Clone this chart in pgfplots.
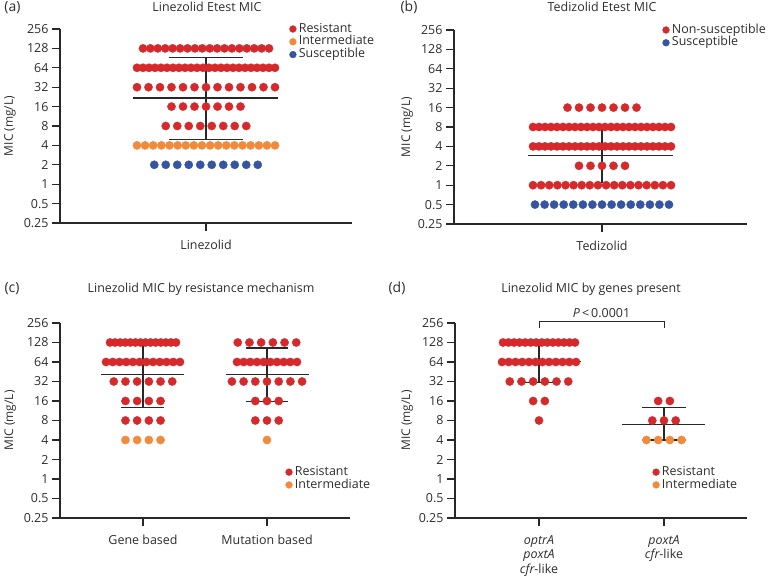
\documentclass[border=0pt]{standalone}
\usepackage{fontspec}
\setmainfont{Open Sans}
\usepackage{pgfplots}
\pgfplotsset{compat=1.18}
\definecolor{cR}{RGB}{213,41,43}
\definecolor{cO}{RGB}{241,139,59}
\definecolor{cB}{RGB}{54,84,164}
\definecolor{axc}{RGB}{40,40,40}
\definecolor{txc}{RGB}{45,45,45}
\pgfplotsset{every axis/.append style={
  scale only axis, clip=false,
  ymode=log, log basis y=2, ymin=0.25, ymax=256,
  ytick={0.25,0.5,1,2,4,8,16,32,64,128,256},
  yticklabels={0.25,0.5,1,2,4,8,16,32,64,128,256},
  axis x line*=bottom, axis y line*=left,
  axis line style={line width=1.1bp, axc},
  tick style={line width=1.1bp, axc},
  tick align=outside, major tick length=8bp,
  xmin=0,
  ylabel={MIC (mg/L)},
  yticklabel style={font=\fontsize{12.5}{14}\selectfont, txc},
  xticklabel style={font=\fontsize{12.5}{15}\selectfont, txc, align=center, yshift=-6bp},
  ylabel style={font=\fontsize{12}{14}\selectfont, txc},
  /pgf/number format/assume math mode=true,
  legend style={draw=none, fill=none, inner sep=0pt, outer sep=0pt, row sep=0pt, column sep=1.5bp,
    font=\fontsize{12.5}{12.5}\selectfont, text=txc,
    nodes={inner sep=1bp, text height=8.6bp, text depth=2.2bp},
    anchor=north west},
  legend cell align=left,
}}
\begin{document}
\begin{tikzpicture}
\path[use as bounding box] (0,0) rectangle (770bp,576bp);

% ---------------- (a) ----------------
\begin{axis}[at={(60bp,353bp)}, anchor=south west, width=292bp, height=194bp,
  xmax=292, xtick={146}, xticklabels={Linezolid},
  ylabel style={at={(axis description cs:-0.171,0.5)}, anchor=center},
  legend style={at={(axis description cs:0.786,1.033)}}]
\addlegendimage{only marks, mark=*, mark size=3.4bp, color=cR, mark options={draw=none}}\addlegendentry{Resistant}
\addlegendimage{only marks, mark=*, mark size=3.4bp, color=cO, mark options={draw=none}}\addlegendentry{Intermediate}
\addlegendimage{only marks, mark=*, mark size=3.4bp, color=cB, mark options={draw=none}}\addlegendentry{Susceptible}
\addplot[only marks, mark=*, mark size=4.1bp, color=cR, mark options={draw=none}, forget plot] coordinates {(83,128)(90.4,128)(97.8,128)(105.2,128)(112.6,128)(120.1,128)(127.5,128)(134.9,128)(142.3,128)(149.7,128)(157.1,128)(164.5,128)(171.9,128)(179.4,128)(186.8,128)(194.2,128)(201.6,128)(209,128)};
\addplot[only marks, mark=*, mark size=4.1bp, color=cR, mark options={draw=none}, forget plot] coordinates {(77,64)(83,64)(89,64)(95,64)(101,64)(107,64)(113,64)(119,64)(125,64)(131,64)(137,64)(143,64)(149,64)(155,64)(161,64)(167,64)(173,64)(179,64)(185,64)(191,64)(197,64)(203,64)(209,64)(215,64)};
\addplot[only marks, mark=*, mark size=4.1bp, color=cR, mark options={draw=none}, forget plot] coordinates {(77,32)(88.5,32)(100,32)(111.5,32)(123,32)(134.5,32)(146,32)(157.5,32)(169,32)(180.5,32)(192,32)(203.5,32)(215,32)};
\addplot[only marks, mark=*, mark size=4.1bp, color=cR, mark options={draw=none}, forget plot] coordinates {(111.5,16)(123,16)(134.5,16)(146,16)(157.5,16)(169,16)(180.5,16)};
\addplot[only marks, mark=*, mark size=4.1bp, color=cR, mark options={draw=none}, forget plot] coordinates {(105.75,8)(117.25,8)(128.75,8)(140.25,8)(151.75,8)(163.25,8)(174.75,8)(186.25,8)};
\addplot[only marks, mark=*, mark size=4.1bp, color=cO, mark options={draw=none}, forget plot] coordinates {(77,4)(85.1,4)(93.2,4)(101.4,4)(109.5,4)(117.6,4)(125.7,4)(133.8,4)(141.9,4)(150.1,4)(158.2,4)(166.3,4)(174.4,4)(182.5,4)(190.6,4)(198.8,4)(206.9,4)(215,4)};
\addplot[only marks, mark=*, mark size=4.1bp, color=cB, mark options={draw=none}, forget plot] coordinates {(94.25,2)(105.75,2)(117.25,2)(128.75,2)(140.25,2)(151.75,2)(163.25,2)(174.75,2)(186.25,2)(197.75,2)};
\addplot[axc, line width=1.2bp, mark=none, forget plot] coordinates {(73,21.7)(218,21.7)};
\addplot[axc, line width=1.2bp, mark=none, forget plot] coordinates {(146,5.0)(146,93)};
\addplot[axc, line width=1.2bp, mark=none, forget plot] coordinates {(109,93)(183,93)};
\addplot[axc, line width=1.2bp, mark=none, forget plot] coordinates {(109,5.0)(183,5.0)};
\end{axis}

% ---------------- (b) ----------------
\begin{axis}[at={(454bp,352bp)}, anchor=south west, width=293bp, height=194bp,
  xmax=293, xtick={148}, xticklabels={Tedizolid},
  ylabel style={at={(axis description cs:-0.160,0.5)}, anchor=center},
  legend style={at={(axis description cs:0.712,1.033)}}]
\addlegendimage{only marks, mark=*, mark size=3.4bp, color=cR, mark options={draw=none}}\addlegendentry{Non-susceptible}
\addlegendimage{only marks, mark=*, mark size=3.4bp, color=cB, mark options={draw=none}}\addlegendentry{Susceptible}
\addplot[only marks, mark=*, mark size=4.1bp, color=cR, mark options={draw=none}, forget plot] coordinates {(113.5,16)(125,16)(136.5,16)(148,16)(159.5,16)(171,16)(182.5,16)};
\addplot[only marks, mark=*, mark size=4.1bp, color=cR, mark options={draw=none}, forget plot] coordinates {(79,8)(85,8)(91,8)(97,8)(103,8)(109,8)(115,8)(121,8)(127,8)(133,8)(139,8)(145,8)(151,8)(157,8)(163,8)(169,8)(175,8)(181,8)(187,8)(193,8)(199,8)(205,8)(211,8)(217,8)};
\addplot[only marks, mark=*, mark size=4.1bp, color=cR, mark options={draw=none}, forget plot] coordinates {(79,4)(85,4)(91,4)(97,4)(103,4)(109,4)(115,4)(121,4)(127,4)(133,4)(139,4)(145,4)(151,4)(157,4)(163,4)(169,4)(175,4)(181,4)(187,4)(193,4)(199,4)(205,4)(211,4)(217,4)};
\addplot[only marks, mark=*, mark size=4.1bp, color=cR, mark options={draw=none}, forget plot] coordinates {(125,2)(136.5,2)(148,2)(159.5,2)(171,2)};
\addplot[only marks, mark=*, mark size=4.1bp, color=cR, mark options={draw=none}, forget plot] coordinates {(79,1)(87.1,1)(95.2,1)(103.4,1)(111.5,1)(119.6,1)(127.7,1)(135.8,1)(143.9,1)(152.1,1)(160.2,1)(168.3,1)(176.4,1)(184.5,1)(192.6,1)(200.8,1)(208.9,1)(217,1)};
\addplot[only marks, mark=*, mark size=4.1bp, color=cB, mark options={draw=none}, forget plot] coordinates {(81,0.5)(90.6,0.5)(100.1,0.5)(109.7,0.5)(119.3,0.5)(128.9,0.5)(138.4,0.5)(148,0.5)(157.6,0.5)(167.1,0.5)(176.7,0.5)(186.3,0.5)(195.9,0.5)(205.4,0.5)(215,0.5)};
\addplot[axc, line width=1.2bp, mark=none, forget plot] coordinates {(74,2.87)(219,2.87)};
\addplot[axc, line width=1.2bp, mark=none, forget plot] coordinates {(148,1.07)(148,7.2)};
\end{axis}

% ---------------- (c) ----------------
\begin{axis}[at={(60bp,58bp)}, anchor=south west, width=290bp, height=195bp,
  xmax=290, xtick={83,207}, xticklabels={Gene based,Mutation based},
  ylabel style={at={(axis description cs:-0.172,0.5)}, anchor=center},
  legend style={at={(axis description cs:0.778,0.268)}}]
\addlegendimage{only marks, mark=*, mark size=3.4bp, color=cR, mark options={draw=none}}\addlegendentry{Resistant}
\addlegendimage{only marks, mark=*, mark size=3.4bp, color=cO, mark options={draw=none}}\addlegendentry{Intermediate}
\addplot[only marks, mark=*, mark size=4.1bp, color=cR, mark options={draw=none}, forget plot] coordinates {(50,128)(55.1,128)(60.2,128)(65.2,128)(70.3,128)(75.4,128)(80.5,128)(85.5,128)(90.6,128)(95.7,128)(100.8,128)(105.8,128)(110.9,128)(116,128)};
\addplot[only marks, mark=*, mark size=4.1bp, color=cR, mark options={draw=none}, forget plot] coordinates {(46,64)(52.7,64)(59.5,64)(66.2,64)(72.9,64)(79.6,64)(86.4,64)(93.1,64)(99.8,64)(106.5,64)(113.3,64)(120,64)};
\addplot[only marks, mark=*, mark size=4.1bp, color=cR, mark options={draw=none}, forget plot] coordinates {(53.75,32)(65.45,32)(77.15,32)(88.85,32)(100.55,32)(112.25,32)};
\addplot[only marks, mark=*, mark size=4.1bp, color=cR, mark options={draw=none}, forget plot] coordinates {(65.45,16)(77.15,16)(88.85,16)(100.55,16)};
\addplot[only marks, mark=*, mark size=4.1bp, color=cR, mark options={draw=none}, forget plot] coordinates {(65.45,8)(77.15,8)(88.85,8)(100.55,8)};
\addplot[only marks, mark=*, mark size=4.1bp, color=cO, mark options={draw=none}, forget plot] coordinates {(65.45,4)(77.15,4)(88.85,4)(100.55,4)};
\addplot[only marks, mark=*, mark size=4.1bp, color=cR, mark options={draw=none}, forget plot] coordinates {(177.75,128)(189.45,128)(201.15,128)(212.85,128)(224.55,128)(236.25,128)};
\addplot[only marks, mark=*, mark size=4.1bp, color=cR, mark options={draw=none}, forget plot] coordinates {(177,64)(183.7,64)(190.3,64)(197,64)(203.7,64)(210.3,64)(217,64)(223.7,64)(230.3,64)(237,64)};
\addplot[only marks, mark=*, mark size=4.1bp, color=cR, mark options={draw=none}, forget plot] coordinates {(171.9,32)(183.6,32)(195.3,32)(207,32)(218.7,32)(230.4,32)(242.1,32)};
\addplot[only marks, mark=*, mark size=4.1bp, color=cR, mark options={draw=none}, forget plot] coordinates {(195.3,16)(207,16)(218.7,16)};
\addplot[only marks, mark=*, mark size=4.1bp, color=cR, mark options={draw=none}, forget plot] coordinates {(195.3,8)(207,8)(218.7,8)};
\addplot[only marks, mark=*, mark size=4.1bp, color=cO, mark options={draw=none}, forget plot] coordinates {(207,4)};
\addplot[axc, line width=1.2bp, mark=none, forget plot] coordinates {(41,41)(124,41)};
\addplot[axc, line width=1.2bp, mark=none, forget plot] coordinates {(83,12.8)(83,118)};
\addplot[axc, line width=1.2bp, mark=none, forget plot] coordinates {(61,12.8)(104,12.8)};
\addplot[axc, line width=1.2bp, mark=none, forget plot] coordinates {(166,40.5)(249,40.5)};
\addplot[axc, line width=1.2bp, mark=none, forget plot] coordinates {(207,15.7)(207,105)};
\addplot[axc, line width=1.2bp, mark=none, forget plot] coordinates {(186,105)(228,105)};
\addplot[axc, line width=1.2bp, mark=none, forget plot] coordinates {(186,15.7)(228,15.7)};
\end{axis}

% ---------------- (d) ----------------
\begin{axis}[at={(455bp,58bp)}, anchor=south west, width=292bp, height=195bp,
  xmax=292, xtick={84,209},
  xticklabels={{\itshape optrA}\\{\itshape poxtA}\\{\itshape cfr}-like, {\itshape poxtA}\\{\itshape cfr}-like},
  xticklabel style={font=\fontsize{12.5}{14.6}\selectfont},
  ylabel style={at={(axis description cs:-0.164,0.5)}, anchor=center},
  legend style={at={(axis description cs:0.677,0.268)}}]
\addlegendimage{only marks, mark=*, mark size=3.4bp, color=cR, mark options={draw=none}}\addlegendentry{Resistant}
\addlegendimage{only marks, mark=*, mark size=3.4bp, color=cO, mark options={draw=none}}\addlegendentry{Intermediate}
\addplot[only marks, mark=*, mark size=4.1bp, color=cR, mark options={draw=none}, forget plot] coordinates {(48,128)(53.5,128)(59.1,128)(64.6,128)(70.2,128)(75.7,128)(81.2,128)(86.8,128)(92.3,128)(97.8,128)(103.4,128)(108.9,128)(114.5,128)(120,128)};
\addplot[only marks, mark=*, mark size=4.1bp, color=cR, mark options={draw=none}, forget plot] coordinates {(47,64)(53.7,64)(60.5,64)(67.2,64)(73.9,64)(80.6,64)(87.4,64)(94.1,64)(100.8,64)(107.5,64)(114.3,64)(121,64)};
\addplot[only marks, mark=*, mark size=4.1bp, color=cR, mark options={draw=none}, forget plot] coordinates {(54.75,32)(66.45,32)(78.15,32)(89.85,32)(101.55,32)(113.25,32)};
\addplot[only marks, mark=*, mark size=4.1bp, color=cR, mark options={draw=none}, forget plot] coordinates {(78.15,16)(89.85,16)};
\addplot[only marks, mark=*, mark size=4.1bp, color=cR, mark options={draw=none}, forget plot] coordinates {(84,8)};
\addplot[only marks, mark=*, mark size=4.1bp, color=cR, mark options={draw=none}, forget plot] coordinates {(203.15,16)(214.85,16)};
\addplot[only marks, mark=*, mark size=4.1bp, color=cR, mark options={draw=none}, forget plot] coordinates {(197.3,8)(209,8)(220.7,8)};
\addplot[only marks, mark=*, mark size=4.1bp, color=cO, mark options={draw=none}, forget plot] coordinates {(191.45,4)(203.15,4)(214.85,4)(226.55,4)};
\addplot[axc, line width=1.2bp, mark=none, forget plot] coordinates {(45,65)(126,65)};
\addplot[axc, line width=1.2bp, mark=none, forget plot] coordinates {(84,31)(84,118)};
\addplot[axc, line width=1.2bp, mark=none, forget plot] coordinates {(66,31)(102,31)};
\addplot[axc, line width=1.2bp, mark=none, forget plot] coordinates {(167,7.0)(250,7.0)};
\addplot[axc, line width=1.2bp, mark=none, forget plot] coordinates {(209,4)(209,12.6)};
\addplot[axc, line width=1.2bp, mark=none, forget plot] coordinates {(187,12.6)(231,12.6)};
\addplot[axc, line width=1.2bp, mark=none, forget plot] coordinates {(187,4)(231,4)};
\addplot[axc, line width=1bp, mark=none, forget plot] coordinates {(84,214)(84,268)(209,268)(209,214)};
\node[anchor=base, text=txc, font=\fontsize{12.5}{15}\selectfont] at (axis cs:146.5,306) {\textit{P}\,<\,0.0001};
\end{axis}

% titles and panel letters
\begin{scope}[every node/.style={text=txc}]
\node[anchor=base, font=\fontsize{12.5}{15}\selectfont] at (207bp,564.5bp) {Linezolid Etest MIC};
\node[anchor=base, font=\fontsize{12.5}{15}\selectfont] at (602bp,564.5bp) {Tedizolid Etest MIC};
\node[anchor=base, font=\fontsize{12.5}{15}\selectfont] at (201bp,283bp) {Linezolid MIC by resistance mechanism};
\node[anchor=base, font=\fontsize{12.5}{15}\selectfont] at (591bp,283bp) {Linezolid MIC by genes present};
\node[anchor=base, font=\fontsize{14}{16}\selectfont] at (12.5bp,564bp) {(a)};
\node[anchor=base, font=\fontsize{14}{16}\selectfont] at (409bp,564bp) {(b)};
\node[anchor=base, font=\fontsize{14}{16}\selectfont] at (12bp,283bp) {(c)};
\node[anchor=base, font=\fontsize{14}{16}\selectfont] at (397bp,283bp) {(d)};
\end{scope}
\end{tikzpicture}
\end{document}
